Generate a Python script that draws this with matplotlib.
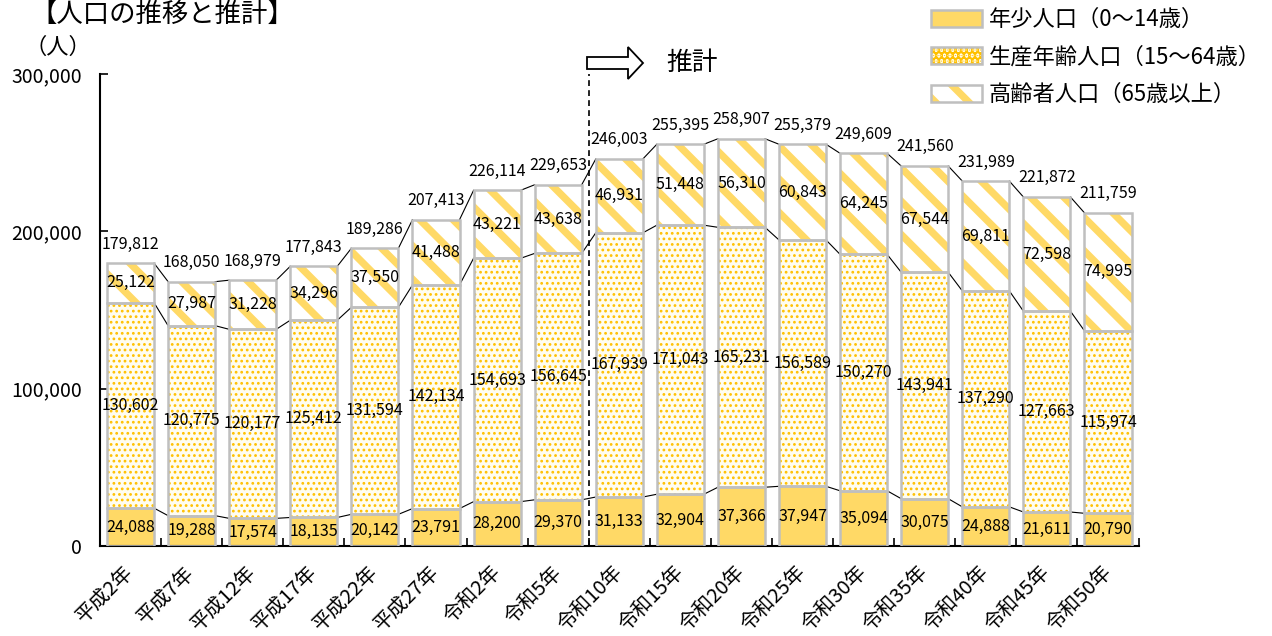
import matplotlib
matplotlib.use("Agg")
import matplotlib.pyplot as plt
from matplotlib.patches import Patch, FancyArrow
import numpy as np

plt.rcParams['font.family'] = ['Noto Sans CJK JP', 'DejaVu Sans']

years = ['平成2年', '平成7年', '平成12年', '平成17年', '平成22年', '平成27年',
         '令和2年', '令和5年', '令和10年', '令和15年', '令和20年', '令和25年',
         '令和30年', '令和35年', '令和40年', '令和45年', '令和50年']
young = [24088, 19288, 17574, 18135, 20142, 23791, 28200, 29370, 31133,
         32904, 37366, 37947, 35094, 30075, 24888, 21611, 20790]
working = [130602, 120775, 120177, 125412, 131594, 142134, 154693, 156645,
           167939, 171043, 165231, 156589, 150270, 143941, 137290, 127663, 115974]
elderly = [25122, 27987, 31228, 34296, 37550, 41488, 43221, 43638, 46931,
           51448, 56310, 60843, 64245, 67544, 69811, 72598, 74995]
totals = [179812, 168050, 168979, 177843, 189286, 207413, 226114, 229653,
          246003, 255395, 258907, 255379, 249609, 241560, 231989, 221872, 211759]
series_names = ['年少人口（0～14歳）', '生産年齢人口（15～64歳）', '高齢者人口（65歳以上）']
yticks = [0, 100000, 200000, 300000]

YELLOW = '#FFD966'
DOT = '#FFC000'
EDGE = '#BFBFBF'
width = 0.77

# fill style per series: (face, hatch color, hatch, hatch linewidth)
styles = [
    (YELLOW, YELLOW, None, 1.0),
    ('#FFFDF0', DOT, '...', 1.2),
    ('white', YELLOW, '\\', 5.2),
]

fig = plt.figure(figsize=(12.72, 6.36), dpi=100)
ax = fig.add_axes([0.0786, 0.1415, 0.8165, 0.742])

x = np.arange(len(years))
young_a = np.array(young)
working_a = np.array(working)
elderly_a = np.array(elderly)
bottoms = [np.zeros(len(x)), young_a, young_a + working_a]
values = [young_a, working_a, elderly_a]


def set_hlw(p, lw):
    if hasattr(p, 'set_hatch_linewidth'):
        p.set_hatch_linewidth(lw)


legend_handles = []
for (face, hc, hatch, hlw), vals, bot in zip(styles, values, bottoms):
    plt.rcParams['hatch.linewidth'] = hlw
    bars = ax.bar(x, vals, width, bottom=bot, color=face, edgecolor=hc,
                  linewidth=0, hatch=hatch, zorder=2)
    for b in bars:
        set_hlw(b, hlw)
    ax.bar(x, vals, width, bottom=bot, fill=False, edgecolor=EDGE,
           linewidth=1.8, zorder=3)
    for xi, v, b0 in zip(x, vals, bot):
        ax.text(xi, b0 + v / 2, f'{v:,}', ha='center', va='center',
                fontsize=11.5, zorder=5)
    h1 = Patch(facecolor=face, edgecolor=hc, linewidth=0, hatch=hatch)
    set_hlw(h1, hlw)
    h2 = Patch(fill=False, edgecolor=EDGE, linewidth=1.8)
    legend_handles.append((h1, h2))

# connector lines between bars
levels = [young_a, young_a + working_a, young_a + working_a + elderly_a]
for lev in levels:
    for i in range(len(x) - 1):
        ax.plot([x[i] + width / 2, x[i + 1] - width / 2], [lev[i], lev[i + 1]],
                color='black', lw=0.8, zorder=1)

# totals
for xi, t in zip(x, totals):
    ax.annotate(f'{t:,}', (xi, t), xytext=(0, 10.5), textcoords='offset points',
                ha='center', va='baseline', fontsize=11.5)

ax.set_xlim(-0.5, len(x) - 0.5)
ax.set_ylim(0, 300000)
ax.set_yticks(yticks)
ax.set_yticklabels([f'{v:,}' for v in yticks], fontsize=14)
ax.tick_params(axis='y', direction='in', length=6, width=1.2, pad=13)

ax.set_xticks(x)
ax.set_xticklabels(years, fontsize=14.5, rotation=45, ha='right', va='center',
                   rotation_mode='anchor')
ax.tick_params(axis='x', which='major', length=0, pad=17)
ax.set_xticks(np.arange(len(x)) + 0.5, minor=True)
ax.tick_params(axis='x', which='minor', direction='in', length=6, width=1.2)

for s in ['top', 'right']:
    ax.spines[s].set_visible(False)
for s in ['left', 'bottom']:
    ax.spines[s].set_linewidth(1.5)

# projection divider
ax.plot([7.5, 7.5], [0, 300000], color='black', lw=1.2, ls=(0, (3.5, 2.5)),
        clip_on=False, zorder=6)
arrow = FancyArrow(5.87, 5.73, 0.56, 0, width=0.12, head_width=0.32,
                   head_length=0.15, length_includes_head=True,
                   facecolor='white', edgecolor='black', lw=1.3,
                   transform=fig.dpi_scale_trans)
fig.patches.append(arrow)
fig.text(666 / 1272, 1 - 63 / 636, '推計', fontsize=18.5, ha='left', va='center')

fig.text(30 / 1272, 1 - 14 / 636, '【人口の推移と推計】', fontsize=19,
         ha='left', va='center')
fig.text(24 / 1272, 1 - 47 / 636, '（人）', fontsize=16, ha='left', va='center')

fig.legend(legend_handles, series_names, loc='upper left',
           bbox_to_anchor=(931 / 1272, 1 - 8 / 636), frameon=False,
           fontsize=16, handlelength=2.3, handleheight=0.8, handletextpad=0.3,
           labelspacing=0.65, borderpad=0, borderaxespad=0)

fig.savefig('out.png', dpi=100)
